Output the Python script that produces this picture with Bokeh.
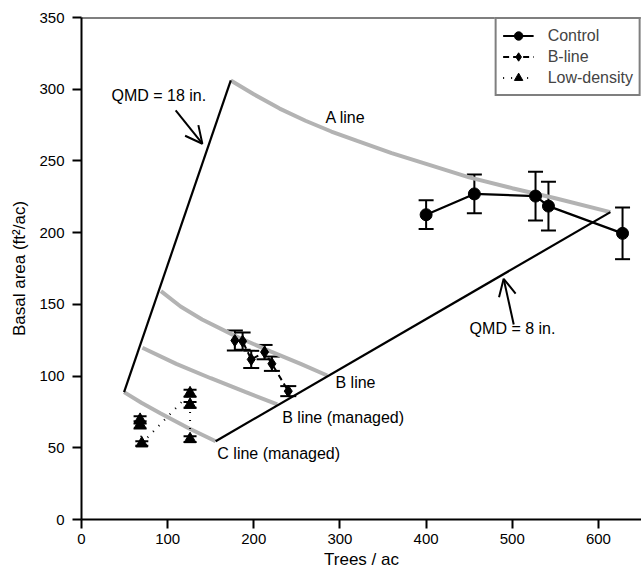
from bokeh.plotting import figure
from bokeh.models import (Range1d, Whisker, TeeHead, Arrow, OpenHead, Legend,
                          LegendItem, Span, ColumnDataSource, FixedTicker)
from bokeh.embed import file_html
from bokeh.resources import INLINE
from bokeh.core.properties import value

FONT = "Liberation Sans"

# ---- data ----
control_tpa = [400, 456, 527, 542, 628]
control_ba = [212.5, 227, 225.5, 218.5, 199.5]
control_err = [10, 13.5, 17, 17, 18]

bline_tpa = [178, 187, 197, 212.5, 221, 240]
bline_ba = [124.8, 124.3, 111.6, 116.7, 108.6, 89.5]
bline_err = [7, 6, 6, 5, 5, 3.5]

low_tpa = [68, 68, 70, 126, 126, 126]
low_ba = [69.5, 66, 53, 88, 80, 56]
low_err = [2.5, 2.5, 1.5, 2.5, 2, 2]

# density management diagram guide lines
qmd18_tpa = [49.4, 173.3]
qmd18_ba = [88.8, 306.1]
qmd8_tpa = [155.7, 613.9]
qmd8_ba = [54.6, 214.3]

a_line_tpa = [173.3, 200, 230, 260, 290, 320, 360, 400, 450, 500, 550, 613.9]
a_line_ba = [306.1, 296.5, 286.5, 278, 270.5, 264, 255.5, 248, 238.5, 231, 224, 214.3]
b_line_tpa = [92.2, 115, 140, 180, 220, 254.4, 285.2]
b_line_ba = [159.2, 148.5, 139.5, 127.5, 117, 108.5, 100.4]
bm_line_tpa = [70.7, 110, 150, 190, 227.2]
bm_line_ba = [119.7, 108.5, 98.5, 89.0, 80.2]
c_line_tpa = [49.4, 70, 92, 125, 155.7]
c_line_ba = [88.8, 81.2, 73.9, 63.4, 54.6]

label_text = ["QMD = 18 in.", "A line", "QMD = 8 in.", "B line",
              "B line (managed)", "C line (managed)"]
label_x = [34.8, 283.2, 450.5, 294.8, 233, 157.7]
label_y = [295.7, 280, 133.2, 95.2, 71.1, 46]

x_ticks = [0, 100, 200, 300, 400, 500, 600]
y_ticks = [0, 50, 100, 150, 200, 250, 300, 350]

# ---- figure ----
p = figure(width=641, height=575, output_backend="svg", toolbar_location=None,
           x_range=Range1d(0, 650), y_range=Range1d(0, 350),
           min_border_left=81, min_border_right=0, min_border_top=17,
           min_border_bottom=56)
p.xgrid.visible = False
p.ygrid.visible = False
p.outline_line_color = None
p.background_fill_color = "white"

for ax in (p.xaxis[0], p.yaxis[0]):
    ax.axis_line_width = 2
    ax.major_tick_line_width = 2
    ax.major_tick_out = 9
    ax.major_tick_in = 0
    ax.minor_tick_line_color = None
    ax.major_label_text_font = FONT
    ax.major_label_text_font_size = "15px"
    ax.major_label_text_color = "black"
    ax.axis_label_text_font = FONT
    ax.axis_label_text_font_size = "17px"
    ax.axis_label_text_font_style = "normal"
    ax.axis_label_text_color = "black"
p.xaxis.ticker = FixedTicker(ticks=x_ticks)
p.yaxis.ticker = FixedTicker(ticks=y_ticks)
p.xaxis.axis_label = "Trees / ac"
p.yaxis.axis_label = "Basal area (ft²/ac)"
p.xaxis.major_label_standoff = 5
p.xaxis.axis_label_standoff = 3
p.yaxis.major_label_standoff = 8
p.yaxis.axis_label_standoff = 7

# top frame line
p.add_layout(Span(location=350, dimension="width", line_color="black", line_width=2))

# gray stocking curves
gray = "#b3b3b3"
for xs, ys in ((a_line_tpa, a_line_ba), (b_line_tpa, b_line_ba),
               (bm_line_tpa, bm_line_ba), (c_line_tpa, c_line_ba)):
    p.line(xs, ys, line_color=gray, line_width=4)

# QMD lines
p.line(qmd18_tpa, qmd18_ba, line_color="black", line_width=2.2)
p.line(qmd8_tpa, qmd8_ba, line_color="black", line_width=2.2)

# arrows
p.add_layout(Arrow(end=OpenHead(size=17, line_width=2, line_color="black"),
                   x_start=109.3, y_start=285.2, x_end=140.3, y_end=262,
                   line_width=2, line_color="black"))
p.add_layout(Arrow(end=OpenHead(size=17, line_width=2, line_color="black"),
                   x_start=501.7, y_start=136, x_end=490, y_end=167.8,
                   line_width=2, line_color="black"))

# annotation texts
lab_src = ColumnDataSource(dict(x=label_x, y=label_y, t=label_text))
p.text(x="x", y="y", text="t", source=lab_src, text_font=value(FONT),
       text_font_size="16px", text_baseline="middle", text_align="left",
       text_color="black")


def whiskers(xs, ys, errs, size):
    src = ColumnDataSource(dict(x=xs, lo=[y - e for y, e in zip(ys, errs)],
                                hi=[y + e for y, e in zip(ys, errs)]))
    w = Whisker(source=src, base="x", lower="lo", upper="hi", dimension="height",
                line_width=2, line_color="black",
                upper_head=TeeHead(size=size, line_width=2, line_color="black"),
                lower_head=TeeHead(size=size, line_width=2, line_color="black"))
    p.add_layout(w)


# Control
c_line = p.line(control_tpa, control_ba, line_color="black", line_width=2.2)
whiskers(control_tpa, control_ba, control_err, 15)
c_pts = p.scatter(control_tpa, control_ba, marker="circle", size=12,
                  fill_color="black", line_color="black")

# B-line
b_line = p.line(bline_tpa, bline_ba, line_color="black", line_width=2, line_dash="6 4")
whiskers(bline_tpa, bline_ba, bline_err, 16)
b_pts = p.scatter(bline_tpa, bline_ba, marker="diamond", size=12,
                  fill_color="black", line_color="black")

# Low-density
l_line = p.line(low_tpa, low_ba, line_color="black", line_width=2, line_dash="1 7")
whiskers(low_tpa, low_ba, low_err, 13)
l_pts = p.scatter(low_tpa, low_ba, marker="triangle", size=12,
                  fill_color="black", line_color="black")

legend = Legend(items=[
    LegendItem(label="Control", renderers=[c_line, c_pts]),
    LegendItem(label="B-line", renderers=[b_line, b_pts]),
    LegendItem(label="Low-density", renderers=[l_line, l_pts]),
], location="top_right", margin=0, padding=6, spacing=0,
    glyph_width=31, glyph_height=21, label_height=21, label_standoff=14,
    label_text_font=FONT, label_text_font_size="16px",
    border_line_color="black", border_line_width=2,
    background_fill_color="white", background_fill_alpha=1.0)
p.add_layout(legend)

open("out.html", "w").write(file_html(p, INLINE))
